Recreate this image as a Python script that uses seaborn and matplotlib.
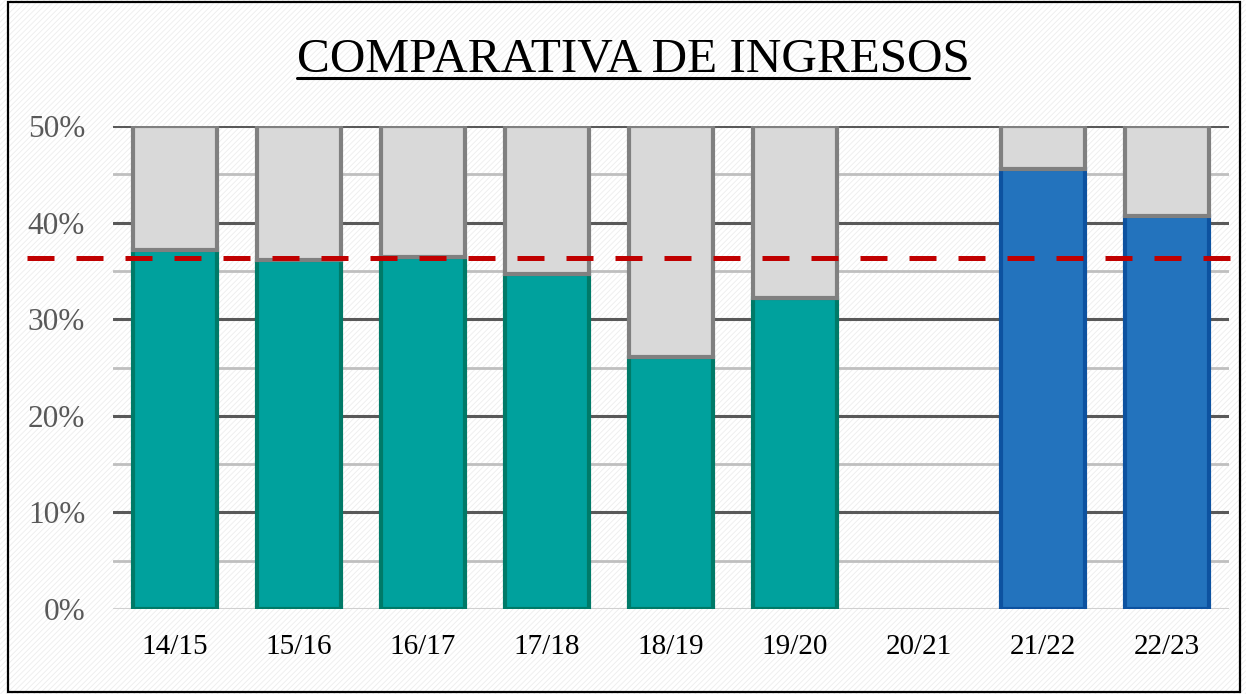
import numpy as np
import pandas as pd
import matplotlib.pyplot as plt
import seaborn as sns
from matplotlib.patches import Rectangle
from matplotlib.lines import Line2D

# Data (percent)
seasons = ["14/15", "15/16", "16/17", "17/18", "18/19", "19/20", "20/21", "21/22", "22/23"]
values = [37.2, 36.1, 36.4, 34.7, 26.1, 32.2, np.nan, 45.5, 40.7]
groups = ["old", "old", "old", "old", "old", "old", "old", "new", "new"]
total = 50.0
reference_line = 36.3
y_labels = ["0%", "10%", "20%", "30%", "40%", "50%"]

fill_colors = {"old": "#00A19D", "new": "#2373BD"}
edge_colors = {"old": "#007A68", "new": "#0D52A0"}
rest_fill = "#D9D9D9"
rest_edge = "#808080"

df = pd.DataFrame({"season": seasons, "value": values, "group": groups})
df["rest"] = total - df["value"]

sns.set_style("white")
plt.rcParams["font.family"] = ["Liberation Serif", "DejaVu Serif"]
plt.rcParams["hatch.linewidth"] = 0.6

fig = plt.figure(figsize=(12.46, 6.94), dpi=100)
# light diagonal background + black frame
fig.patches.append(Rectangle((0, 0), 1, 1, transform=fig.transFigure,
                             facecolor="white", edgecolor="#EDEDED",
                             hatch="//////", linewidth=0, zorder=-10))
fig.patches.append(Rectangle((8 / 1246, 2 / 694), 1232 / 1246, 690 / 694,
                             transform=fig.transFigure, fill=False,
                             edgecolor="black", linewidth=1.6, zorder=10))

ax = fig.add_axes([113 / 1246, 85 / 694, 1116 / 1246, 483 / 694])
ax.set_facecolor("none")

palette = {s: fill_colors[g] for s, g in zip(seasons, groups)}

# coloured part
sns.barplot(data=df, x="season", y="value", hue="season", palette=palette,
            order=seasons, legend=False, width=0.67, saturation=1, ax=ax)
n0 = len(ax.patches)
for p in ax.patches:
    idx = int(round(p.get_x() + p.get_width() / 2))
    p.set_edgecolor(edge_colors[groups[idx]])
    p.set_linewidth(3)
    p.set_zorder(3)

# grey remainder up to 50%
sns.barplot(data=df, x="season", y="rest", order=seasons, color=rest_fill,
            width=0.67, saturation=1, ax=ax)
for p in ax.patches[n0:]:
    idx = int(round(p.get_x() + p.get_width() / 2))
    p.set_y(values[idx])
    p.set_edgecolor(rest_edge)
    p.set_linewidth(3)
    p.set_zorder(4)

ax.axhline(reference_line, xmin=-0.077, xmax=1.01, color="#C00000", lw=3.6,
           dashes=(5.4, 4.4), clip_on=False, zorder=6)

ax.set_xlim(-0.5, len(seasons) - 0.5)
ax.set_ylim(0, total)
ax.set_yticks(np.arange(0, 51, 10))
ax.set_yticklabels(y_labels)
ax.set_yticks(np.arange(5, 50, 10), minor=True)
ax.set_axisbelow(True)
ax.grid(axis="y", which="major", color="#595959", lw=2.2)
ax.grid(axis="y", which="minor", color="#BFBFBF", lw=2.0)
ax.get_ygridlines()[0].set_color("#D0D0D0")
ax.grid(axis="x", visible=False)

ax.tick_params(axis="both", which="both", length=0)
ax.tick_params(axis="y", labelsize=22.5, labelcolor="#595959", pad=20)
ax.tick_params(axis="x", labelsize=21, labelcolor="black", pad=18)
ax.set_xlabel("")
ax.set_ylabel("")
sns.despine(ax=ax, left=True, bottom=True)

title = fig.text(633 / 1246, (694 - 72) / 694, "COMPARATIVA DE INGRESOS",
                 ha="center", va="baseline", fontsize=35.5, color="black")

# underline the title
fig.canvas.draw()
bb = title.get_window_extent()
y_line = (694 - 78) / 694
fig.add_artist(Line2D([bb.x0 / 1246, bb.x1 / 1246], [y_line, y_line],
                      transform=fig.transFigure, color="black", lw=2.2))

fig.savefig("out.png", dpi=100)
